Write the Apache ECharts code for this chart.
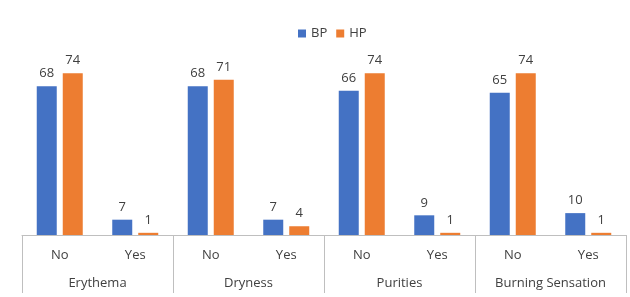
<!DOCTYPE html>
<html><head><meta charset="utf-8">
<script src="https://cdn.jsdelivr.net/npm/echarts@6/dist/echarts.min.js"></script>
<style>html,body{margin:0;padding:0;background:#fff}#c{width:630px;height:297px}</style>
</head><body><div id="c"></div>
<script>
const groups = ["Erythema", "Dryness", "Purities", "Burning Sensation"];
const subCats = ["No", "Yes", "No", "Yes", "No", "Yes", "No", "Yes"];
const bpValues = [68, 7, 68, 7, 66, 9, 65, 10];
const hpValues = [74, 1, 71, 4, 74, 1, 74, 1];
const seriesNames = ["BP", "HP"];

const font = "'Open Sans', 'Noto Sans', sans-serif";
const txt = "#404040";
const chart = echarts.init(document.getElementById('c'));
chart.setOption({
  animation: false,
  textStyle: { fontFamily: font },
  legend: {
    top: 22, left: 293, itemWidth: 8, itemHeight: 8, itemGap: 9,
    icon: 'rect',
    textStyle: { fontSize: 13, color: txt, fontFamily: font },
    data: seriesNames
  },
  grid: { left: 22, right: 4, top: 60, bottom: 62, containLabel: false },
  xAxis: [
    {
      type: 'category', data: subCats, position: 'bottom',
      axisLine: { show: true, lineStyle: { color: '#bfbfbf', width: 1 } },
      axisTick: { show: false },
      axisLabel: { interval: 0, margin: 14, fontSize: 13, color: txt, fontFamily: font }
    },
    {
      type: 'category', data: groups, position: 'bottom',
      axisLine: { show: false },
      axisTick: { show: true, length: 58, lineStyle: { color: '#bfbfbf', width: 1 } },
      axisLabel: { interval: 0, margin: 42, fontSize: 13, color: txt, fontFamily: font }
    }
  ],
  yAxis: {
    type: 'value', min: 0, max: 80, interval: 10, show: false,
    splitLine: { show: false }
  },
  series: [
    {
      name: seriesNames[0], type: 'bar', data: bpValues, xAxisIndex: 0,
      barWidth: 20, barGap: '30%',
      itemStyle: { color: '#4472C4' },
      label: { show: true, position: 'top', distance: 6, fontSize: 13, color: txt, fontFamily: font }
    },
    {
      name: seriesNames[1], type: 'bar', data: hpValues, xAxisIndex: 0,
      barWidth: 20, barGap: '30%',
      itemStyle: { color: '#ED7D31' },
      label: { show: true, position: 'top', distance: 6, fontSize: 13, color: txt, fontFamily: font }
    }
  ]
});
</script></body></html>
